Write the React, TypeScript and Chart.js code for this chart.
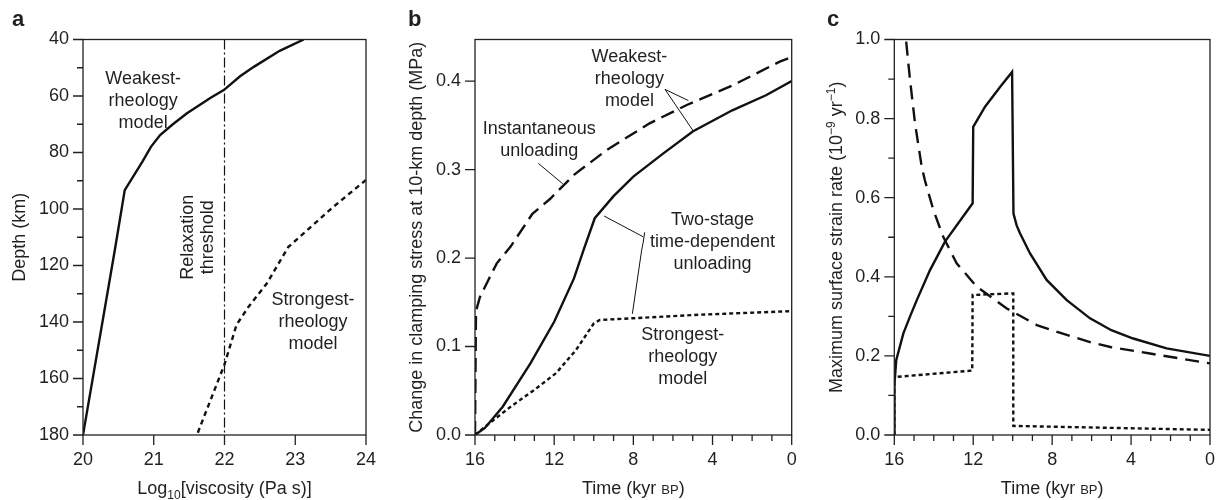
import React, { useEffect, useRef } from "react";
import { Chart, registerables } from "chart.js";

Chart.register(...registerables);

const FONT = '"Liberation Sans", Arial, Helvetica, sans-serif';
const TEXT = "#231f20";
const LINE = "#111111";

// ---------- Panel a: depth vs log10 viscosity ----------
const aWeakVisc = [23.12, 22.78, 22.42, 22.22, 21.99, 21.81, 21.47, 21.27, 21.09, 20.96, 20.84, 20.59, 20.45, 20.0];
const aWeakDepth = [40, 44, 49.6, 53, 57.9, 60.5, 66.1, 70, 73.8, 78, 83.2, 93.3, 114.5, 180];
const aStrongVisc = [24.0, 23.54, 22.9, 22.6, 22.34, 22.17, 22.0, 21.61];
const aStrongDepth = [89.7, 99.2, 113.5, 126.3, 134.6, 141, 155, 180];
const aThresholdVisc = 22;
const aDepthRange = [40, 180];
const aViscRange = [20, 24];

// ---------- Panel b: clamping stress change vs time ----------
const bSolidTime = [16, 15.5, 14.6, 13.2, 12.0, 11.0, 10.5, 9.95, 9.0, 8.0, 6.5, 5.0, 3.0, 1.3, 0];
const bSolidVal = [0, 0.008, 0.032, 0.081, 0.128, 0.177, 0.21, 0.245, 0.27, 0.292, 0.318, 0.343, 0.367, 0.384, 0.4];
const bDashTime = [16, 15.95, 15.75, 15.33, 14.9, 14.2, 13.1, 12.2, 11.0, 9.35, 7.2, 5.3, 3.0, 0.6, 0];
const bDashVal = [0, 0.14, 0.156, 0.175, 0.194, 0.213, 0.25, 0.267, 0.294, 0.322, 0.352, 0.373, 0.395, 0.422, 0.427];
const bDotTime = [16, 15.4, 14.2, 13.0, 11.9, 10.9, 10.0, 9.7, 8.0, 4.6, 0];
const bDotVal = [0, 0.011, 0.032, 0.051, 0.07, 0.096, 0.126, 0.13, 0.132, 0.136, 0.14];

// ---------- Panel c: max surface strain rate vs time ----------
const cSolidTime = [16, 15.99, 15.9, 15.54, 15.2, 14.86, 14.19, 13.43, 12.03, 12.0, 11.4, 10.64, 10.03, 9.96, 9.8, 9.63, 9.12, 8.28, 7.26, 6.08, 5.0, 3.89, 2.2, 0];
const cSolidVal = [0, 0.13, 0.19, 0.257, 0.3, 0.341, 0.417, 0.489, 0.586, 0.779, 0.83, 0.88, 0.918, 0.56, 0.53, 0.51, 0.459, 0.392, 0.341, 0.295, 0.265, 0.244, 0.219, 0.2];
const cDashTime = [15.45, 15.41, 15.2, 14.95, 14.61, 14.45, 14.02, 13.52, 12.84, 11.82, 10.3, 8.78, 7.26, 6.08, 5.0, 3.04, 0];
const cDashVal = [1.05, 1.0, 0.897, 0.788, 0.678, 0.644, 0.569, 0.501, 0.434, 0.375, 0.32, 0.278, 0.253, 0.235, 0.222, 0.206, 0.181];
const cDotTime = [16, 16, 15.88, 12.05, 12.03, 10.05, 9.97, 9.97, 0];
const cDotVal = [0, 0.15, 0.147, 0.163, 0.354, 0.358, 0.358, 0.023, 0.013];

const timeRange = [0, 16];
const bStressRange = [0, 0.447];
const cRateRange = [0, 1];

const zip = (xs: number[], ys: number[]) => xs.map((x, i) => ({ x, y: ys[i] }));

type Run = { t: string; size?: number; dy?: number; bold?: boolean };
type Note = { x: number; y: number; lines: string[]; rot?: boolean };
type Pt = { x: number; y: number };

function drawRuns(ctx: CanvasRenderingContext2D, runs: Run[], x: number, y: number, angle = 0) {
  ctx.save();
  ctx.translate(x, y);
  if (angle) ctx.rotate(angle);
  ctx.fillStyle = TEXT;
  ctx.textBaseline = "alphabetic";
  ctx.textAlign = "left";
  const fontOf = (r: Run) => `${r.bold ? "bold " : ""}${r.size ?? 18}px ${FONT}`;
  let total = 0;
  const widths = runs.map((r) => {
    ctx.font = fontOf(r);
    const w = ctx.measureText(r.t).width;
    total += w;
    return w;
  });
  let cx = -total / 2;
  runs.forEach((r, i) => {
    ctx.font = fontOf(r);
    ctx.fillText(r.t, cx, 6.5 + (r.dy ?? 0));
    cx += widths[i];
  });
  ctx.restore();
}

interface PanelOpts {
  letter: string;
  letterX: number;
  datasets: any[];
  xRange: number[];
  yRange: number[];
  xStep: number;
  yStep: number;
  xReverse: boolean;
  yReverse: boolean;
  xLabel: (v: number) => string;
  yLabel: (v: number) => string;
  xMajor: (v: number) => boolean;
  yMajor: (v: number) => boolean;
  yWidth: number;
  padR: number;
  xTitle: Run[];
  yTitle: Run[];
  yTitleX: number;
  notes: Note[];
  leaders: Pt[][];
}

function panelPlugin(o: PanelOpts) {
  return {
    id: "panelDecor" + o.letter,
    afterDraw(chart: any) {
      const ctx: CanvasRenderingContext2D = chart.ctx;
      const a = chart.chartArea;
      const xs = chart.scales.x;
      const ys = chart.scales.y;
      ctx.save();
      ctx.strokeStyle = TEXT;
      ctx.lineWidth = 1.3;
      ctx.strokeRect(a.left, a.top, a.right - a.left, a.bottom - a.top);
      ctx.beginPath();
      xs.ticks.forEach((t: any) => {
        const px = xs.getPixelForValue(t.value);
        const len = o.xMajor(t.value) ? 10 : 6;
        ctx.moveTo(px, a.bottom);
        ctx.lineTo(px, a.bottom + len);
      });
      ys.ticks.forEach((t: any) => {
        const py = ys.getPixelForValue(t.value);
        const len = o.yMajor(t.value) ? 10 : 6;
        ctx.moveTo(a.left, py);
        ctx.lineTo(a.left - len, py);
      });
      ctx.stroke();

      // leader lines
      ctx.lineWidth = 1;
      ctx.strokeStyle = LINE;
      o.leaders.forEach((pts) => {
        ctx.beginPath();
        pts.forEach((p, i) => {
          const px = xs.getPixelForValue(p.x);
          const py = ys.getPixelForValue(p.y);
          if (i === 0) ctx.moveTo(px, py);
          else ctx.lineTo(px, py);
        });
        ctx.stroke();
      });

      // notes
      o.notes.forEach((n) => {
        const px = xs.getPixelForValue(n.x);
        const py = ys.getPixelForValue(n.y);
        n.lines.forEach((ln, i) => {
          const off = (i - (n.lines.length - 1) / 2) * 22;
          if (n.rot) drawRuns(ctx, [{ t: ln }], px + off, py, -Math.PI / 2);
          else drawRuns(ctx, [{ t: ln }], px, py + off);
        });
      });

      // axis titles
      drawRuns(ctx, o.xTitle, (a.left + a.right) / 2, a.bottom + 52);
      drawRuns(ctx, o.yTitle, o.yTitleX, (a.top + a.bottom) / 2, -Math.PI / 2);

      // panel letter
      ctx.fillStyle = TEXT;
      ctx.font = `bold 22px ${FONT}`;
      ctx.textAlign = "left";
      ctx.textBaseline = "alphabetic";
      ctx.fillText(o.letter, o.letterX, 26);
      ctx.restore();
    },
  };
}

function makeConfig(o: PanelOpts): any {
  const tickFont = { family: FONT, size: 18 };
  return {
    type: "line",
    data: { datasets: o.datasets },
    options: {
      responsive: false,
      animation: false,
      devicePixelRatio: 1,
      layout: { padding: { left: 0, top: 39.5, right: o.padR, bottom: 0 } },
      plugins: { legend: { display: false }, tooltip: { enabled: false } },
      elements: { point: { radius: 0 }, line: { tension: 0 } },
      scales: {
        x: {
          type: "linear",
          min: o.xRange[0],
          max: o.xRange[1],
          reverse: o.xReverse,
          border: { display: false },
          grid: { display: false, drawTicks: true, tickLength: 10 },
          ticks: {
            stepSize: o.xStep,
            autoSkip: false,
            maxRotation: 0,
            includeBounds: false,
            padding: 4,
            font: tickFont,
            color: TEXT,
            callback: (v: any) => o.xLabel(Number(v)),
          },
          afterFit: (s: any) => {
            s.height = 65;
          },
        },
        y: {
          type: "linear",
          min: o.yRange[0],
          max: o.yRange[1],
          reverse: o.yReverse,
          border: { display: false },
          grid: { display: false, drawTicks: true, tickLength: 10 },
          ticks: {
            stepSize: o.yStep,
            autoSkip: false,
            includeBounds: false,
            padding: 4,
            font: tickFont,
            color: TEXT,
            callback: (v: any) => o.yLabel(Number(v)),
          },
          afterFit: (s: any) => {
            s.width = o.yWidth;
          },
        },
      },
    },
    plugins: [panelPlugin(o)],
  };
}

const solid = (data: Pt[]) => ({ data, borderColor: LINE, borderWidth: 2.4, fill: false });
const dashed = (data: Pt[], dash: number[]) => ({ data, borderColor: LINE, borderWidth: 2.4, borderDash: dash, fill: false });

const tenthMajor2 = (v: number) => Math.abs(Math.round(v * 10)) % 2 === 0;
const fourMajor = (v: number) => Math.round(v) % 4 === 0;
const timeTitle: Run[] = [{ t: "Time (kyr " }, { t: "BP", size: 13 }, { t: ")" }];

const panelA: PanelOpts = {
  letter: "a",
  letterX: 12,
  datasets: [
    solid(zip(aWeakVisc, aWeakDepth)),
    dashed(zip(aStrongVisc, aStrongDepth), [5, 4]),
    {
      data: [
        { x: aThresholdVisc, y: aDepthRange[0] },
        { x: aThresholdVisc, y: aDepthRange[1] },
      ],
      borderColor: LINE,
      borderWidth: 1.2,
      borderDash: [10, 3, 2, 3],
      fill: false,
    },
  ],
  xRange: aViscRange,
  yRange: aDepthRange,
  xStep: 1,
  yStep: 10,
  xReverse: false,
  yReverse: true,
  xLabel: (v) => String(Math.round(v)),
  yLabel: (v) => (Math.round(v) % 20 === 0 ? String(Math.round(v)) : ""),
  xMajor: () => true,
  yMajor: (v) => Math.round(v) % 20 === 0,
  yWidth: 83,
  padR: 29,
  xTitle: [{ t: "Log" }, { t: "10", size: 12, dy: 5 }, { t: "[viscosity (Pa s)]" }],
  yTitle: [{ t: "Depth (km)" }],
  yTitleX: 18,
  notes: [
    { x: 20.85, y: 61.4, lines: ["Weakest-", "rheology", "model"] },
    { x: 23.25, y: 139.3, lines: ["Strongest-", "rheology", "model"] },
    { x: 21.464, y: 110, lines: ["Relaxation"], rot: true },
    { x: 21.747, y: 110, lines: ["threshold"], rot: true },
  ],
  leaders: [],
};

const panelB: PanelOpts = {
  letter: "b",
  letterX: 13,
  datasets: [
    solid(zip(bSolidTime, bSolidVal)),
    dashed(zip(bDashTime, bDashVal), [14, 7]),
    dashed(zip(bDotTime, bDotVal), [4, 3]),
  ],
  xRange: timeRange,
  yRange: bStressRange,
  xStep: 1,
  yStep: 0.1,
  xReverse: true,
  yReverse: false,
  xLabel: (v) => (fourMajor(v) ? String(Math.round(v)) : ""),
  yLabel: (v) => v.toFixed(1),
  xMajor: fourMajor,
  yMajor: () => true,
  yWidth: 80,
  padR: 18.3,
  xTitle: timeTitle,
  yTitle: [{ t: "Change in clamping stress at 10-km depth (MPa)" }],
  yTitleX: 20,
  notes: [
    { x: 8.2, y: 0.4037, lines: ["Weakest-", "rheology", "model"] },
    { x: 12.75, y: 0.3354, lines: ["Instantaneous", "unloading"] },
    { x: 4.0, y: 0.2195, lines: ["Two-stage", "time-dependent", "unloading"] },
    { x: 5.5, y: 0.0893, lines: ["Strongest-", "rheology", "model"] },
  ],
  leaders: [
    [{ x: 6.4, y: 0.3906 }, { x: 5.22, y: 0.378 }],
    [{ x: 6.4, y: 0.3906 }, { x: 4.97, y: 0.3435 }],
    [{ x: 12.8, y: 0.307 }, { x: 11.57, y: 0.284 }],
    [{ x: 9.48, y: 0.2475 }, { x: 7.5, y: 0.224 }],
    [{ x: 7.43, y: 0.229 }, { x: 7.5, y: 0.218 }, { x: 7.58, y: 0.209 }, { x: 8.05, y: 0.137 }],
  ],
};

const panelC: PanelOpts = {
  letter: "c",
  letterX: 17,
  datasets: [
    solid(zip(cSolidTime, cSolidVal)),
    dashed(zip(cDashTime, cDashVal), [14, 8]),
    dashed(zip(cDotTime, cDotVal), [4, 3]),
  ],
  xRange: timeRange,
  yRange: cRateRange,
  xStep: 1,
  yStep: 0.1,
  xReverse: true,
  yReverse: false,
  xLabel: (v) => (fourMajor(v) ? String(Math.round(v)) : ""),
  yLabel: (v) => (tenthMajor2(v) ? v.toFixed(1) : ""),
  xMajor: fourMajor,
  yMajor: tenthMajor2,
  yWidth: 84.3,
  padR: 12,
  xTitle: timeTitle,
  yTitle: [
    { t: "Maximum surface strain rate (10" },
    { t: "\u22129", size: 12, dy: -7 },
    { t: " yr" },
    { t: "\u22121", size: 12, dy: -7 },
    { t: ")" },
  ],
  yTitleX: 25,
  notes: [],
  leaders: [],
};

function Panel({ left, width, opts }: { left: number; width: number; opts: PanelOpts }) {
  const ref = useRef<HTMLCanvasElement>(null);
  useEffect(() => {
    const chart = new Chart(ref.current as HTMLCanvasElement, makeConfig(opts));
    return () => chart.destroy();
  }, [opts]);
  return (
    <canvas
      ref={ref}
      width={width}
      height={500}
      style={{ position: "absolute", left, top: 0, width, height: 500 }}
    />
  );
}

export default function App() {
  return (
    <div
      style={{
        position: "absolute",
        left: 0,
        top: 0,
        width: 1217,
        height: 500,
        overflow: "hidden",
        background: "#ffffff",
      }}
    >
      <Panel left={0} width={395} opts={panelA} />
      <Panel left={395} width={415} opts={panelB} />
      <Panel left={810} width={412} opts={panelC} />
    </div>
  );
}
